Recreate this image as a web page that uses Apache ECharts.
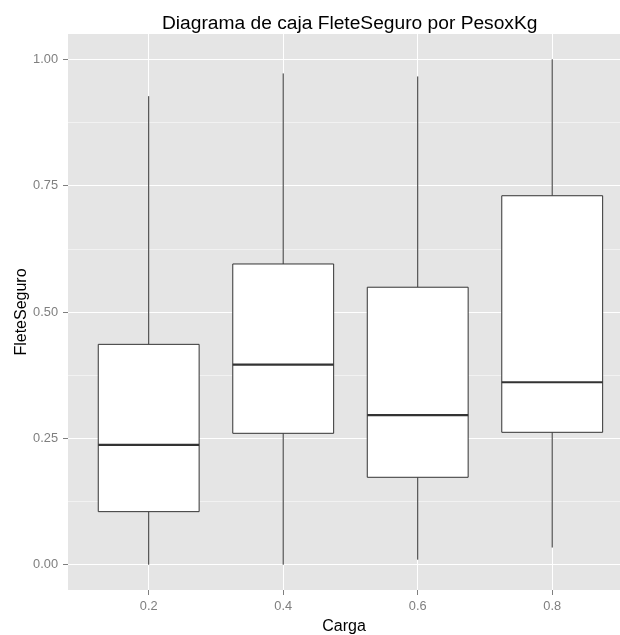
<!DOCTYPE html>
<html>
<head>
<meta charset="utf-8">
<script src="https://cdn.jsdelivr.net/npm/echarts@6/dist/echarts.min.js"></script>
<style>html,body{margin:0;padding:0;background:#fff}#c{width:620px;height:635px}</style>
</head>
<body>
<div id="c"></div>
<script>
// Data
const categories = ['0.2', '0.4', '0.6', '0.8'];
const lows    = [0.000, 0.000, 0.010, 0.034];
const q1s     = [0.105, 0.260, 0.173, 0.262];
const medians = [0.237, 0.396, 0.296, 0.361];
const q3s     = [0.436, 0.595, 0.549, 0.730];
const highs   = [0.927, 0.972, 0.966, 1.000];
const yTicks = [0, 0.25, 0.5, 0.75, 1];
const yMinorTicks = [0.125, 0.375, 0.625, 0.875];

const positions = categories.map((c, i) => i + 1);
const boxData = categories.map((c, i) => [positions[i], lows[i], q1s[i], medians[i], q3s[i], highs[i]]);

const FONT = 'Liberation Sans, Arial, sans-serif';
const STROKE = '#333333';
const BOX_W = 0.75;

const chart = echarts.init(document.getElementById('c'), null, {renderer: 'canvas'});
chart.setOption({
  animation: false,
  backgroundColor: '#ffffff',
  title: {
    text: 'Diagrama de caja FleteSeguro por PesoxKg',
    left: 157, top: 9,
    textStyle: {fontFamily: FONT, fontSize: 19.2, fontWeight: 'normal', color: '#000'}
  },
  grid: {
    left: 68, right: 0, top: 34, bottom: 45,
    outerBoundsMode: 'none', containLabel: false,
    show: true, backgroundColor: '#E5E5E5', borderWidth: 0
  },
  xAxis: {
    type: 'value', min: 0.4, max: 4.504, position: 'bottom',
    name: 'Carga', nameLocation: 'middle', nameGap: 29, nameMoveOverlap: false,
    nameTextStyle: {fontFamily: FONT, fontSize: 16, color: '#000', align: 'center'},
    axisLine: {show: false, onZero: false},
    axisTick: {show: true, customValues: positions, length: 5, lineStyle: {color: '#7F7F7F', width: 1}},
    axisLabel: {customValues: positions, margin: 10, fontFamily: FONT, fontSize: 12.8, color: '#7F7F7F',
      formatter: v => categories[Math.round(v) - 1]},
    splitLine: {show: true, lineStyle: {color: '#FFFFFF', width: 1}}
  },
  yAxis: [{
    type: 'value', min: -0.05, max: 1.05, position: 'left',
    name: 'FleteSeguro', nameLocation: 'middle', nameGap: 38.5, nameRotate: 90, nameMoveOverlap: false,
    nameTextStyle: {fontFamily: FONT, fontSize: 16, color: '#000'},
    axisLine: {show: false, onZero: false},
    axisTick: {show: true, customValues: yTicks, length: 5, lineStyle: {color: '#7F7F7F', width: 1}},
    axisLabel: {customValues: yTicks, margin: 10, fontFamily: FONT, fontSize: 12.8, color: '#7F7F7F',
      formatter: v => v.toFixed(2)},
    splitLine: {show: true, lineStyle: {color: '#FFFFFF', width: 1}}
  }, {
    type: 'value', min: -0.05, max: 1.05, position: 'left',
    axisLine: {show: false, onZero: false},
    axisTick: {show: false, customValues: yMinorTicks},
    axisLabel: {show: false},
    splitLine: {show: true, lineStyle: {color: '#F2F2F2', width: 1}}
  }],
  series: [{
    type: 'custom',
    xAxisIndex: 0, yAxisIndex: 0,
    encode: {x: 0, y: [1, 2, 3, 4, 5]},
    data: boxData,
    renderItem: function (params, api) {
      const x = api.value(0);
      const lo = api.coord([x, api.value(1)]);
      const q1 = api.coord([x, api.value(2)]);
      const md = api.coord([x, api.value(3)]);
      const q3 = api.coord([x, api.value(4)]);
      const hi = api.coord([x, api.value(5)]);
      const w = api.size([BOX_W, 0])[0];
      return {
        type: 'group',
        children: [
          {type: 'line', shape: {x1: lo[0], y1: lo[1], x2: q1[0], y2: q1[1]}, style: {stroke: STROKE, lineWidth: 1}},
          {type: 'line', shape: {x1: q3[0], y1: q3[1], x2: hi[0], y2: hi[1]}, style: {stroke: STROKE, lineWidth: 1}},
          {type: 'rect', shape: {x: q3[0] - w / 2, y: q3[1], width: w, height: q1[1] - q3[1]}, style: {fill: '#FFFFFF', stroke: STROKE, lineWidth: 1}},
          {type: 'line', shape: {x1: md[0] - w / 2, y1: md[1], x2: md[0] + w / 2, y2: md[1]}, style: {stroke: STROKE, lineWidth: 2.2}}
        ]
      };
    }
  }]
});
</script>
</body>
</html>
